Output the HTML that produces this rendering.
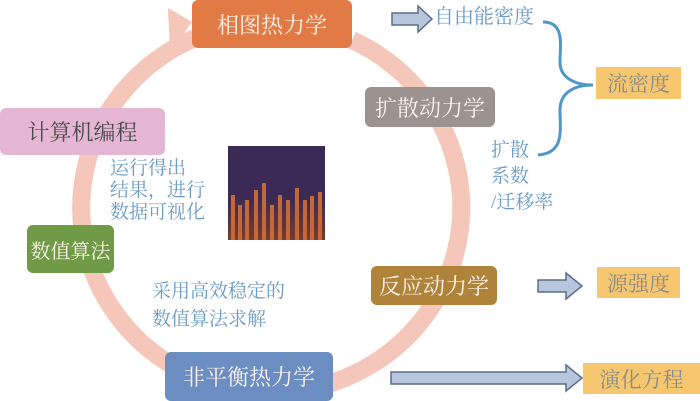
<!DOCTYPE html>
<html><head><meta charset="utf-8"><style>
body{margin:0;width:700px;height:401px;background:#fff;position:relative;overflow:hidden;font-family:"Liberation Serif","Noto Serif CJK SC",serif}
.b{position:absolute;display:flex;align-items:center;justify-content:center;border-radius:6px;font-size:22px;color:#fbf3ea;white-space:nowrap}
.t{position:absolute;color:#6a9ac4;font-size:19px;line-height:25px;white-space:nowrap}
.y{position:absolute;background:#f6c76e;color:#8a8a8a;font-size:21px;display:flex;align-items:center;justify-content:center;white-space:nowrap}
</style></head><body>
<svg width="700" height="401" style="position:absolute;left:0;top:0">
<path d="M352,40 A190,185 0 1 1 195,38" fill="none" stroke="#f5c6ba" stroke-width="18"/>
<path d="M168,8 L192,22 L170,52 Z" fill="#f5c6ba"/>
<g fill="#b7c6dc" stroke="#5b6d8c" stroke-width="1.5">
<polygon points="392,13 418,13 418,6 432,19 418,32 418,25 392,25"/>
<polygon points="538,280 566,280 566,273 582,286 566,299 566,292 538,292"/>
<polygon points="391,372 566,372 566,365 582,378 566,391 566,384 391,384"/>
</g>
<path d="M543,22 C565,22 560,45 560,62 C560,78 575,85 593,85 C575,85 560,92 560,110 C560,130 565,153 538,155" fill="none" stroke="#4f97c8" stroke-width="3"/>
<defs><linearGradient id="g" x1="0" y1="0" x2="0" y2="1"><stop offset="0" stop-color="#3a2a55"/><stop offset="0.55" stop-color="#3a2a55"/><stop offset="1" stop-color="#7a3a2a"/></linearGradient></defs>
<rect x="228" y="146" width="97" height="94" fill="url(#g)"/>
<g stroke="#c4683a" stroke-width="4">
<line x1="233" y1="240" x2="233" y2="195"/><line x1="240" y1="240" x2="240" y2="205"/><line x1="247" y1="240" x2="247" y2="200"/><line x1="256" y1="240" x2="256" y2="190"/><line x1="264" y1="240" x2="264" y2="183"/><line x1="272" y1="240" x2="272" y2="205"/><line x1="280" y1="240" x2="280" y2="195"/><line x1="288" y1="240" x2="288" y2="200"/><line x1="297" y1="240" x2="297" y2="188"/><line x1="305" y1="240" x2="305" y2="200"/><line x1="312" y1="240" x2="312" y2="196"/><line x1="320" y1="240" x2="320" y2="192"/>
</g>
</svg>
<div class="b" style="left:192px;top:0;width:160px;height:48px;background:#e27a45">相图热力学</div>
<div class="b" style="left:0;top:108px;width:165px;height:47px;background:#e4b6d3;color:#4a4a4a">计算机编程</div>
<div class="b" style="left:365px;top:87px;width:130px;height:40px;background:#9c9290">扩散动力学</div>
<div class="b" style="left:27px;top:225px;width:87px;height:48px;background:#6f9b46;font-size:20px">数值算法</div>
<div class="b" style="left:371px;top:266px;width:126px;height:39px;background:#b0833a">反应动力学</div>
<div class="b" style="left:165px;top:352px;width:168px;height:49px;background:#6b8dc1">非平衡热力学</div>
<div class="y" style="left:596px;top:67px;width:85px;height:32px">流密度</div>
<div class="y" style="left:597px;top:267px;width:83px;height:31px">源强度</div>
<div class="y" style="left:583px;top:363px;width:117px;height:31px">演化方程</div>
<div class="t" style="left:434px;top:5px;font-size:20px">自由能密度</div>
<div class="t" style="left:491px;top:138px;line-height:26px">扩散<br>系数<br>/迁移率</div>
<div class="t" style="left:110px;top:158px;line-height:22px">运行得出<br>结果，进行<br>数据可视化</div>
<div class="t" style="left:152px;top:278px;line-height:28px">采用高效稳定的<br>数值算法求解</div>
</body></html>
